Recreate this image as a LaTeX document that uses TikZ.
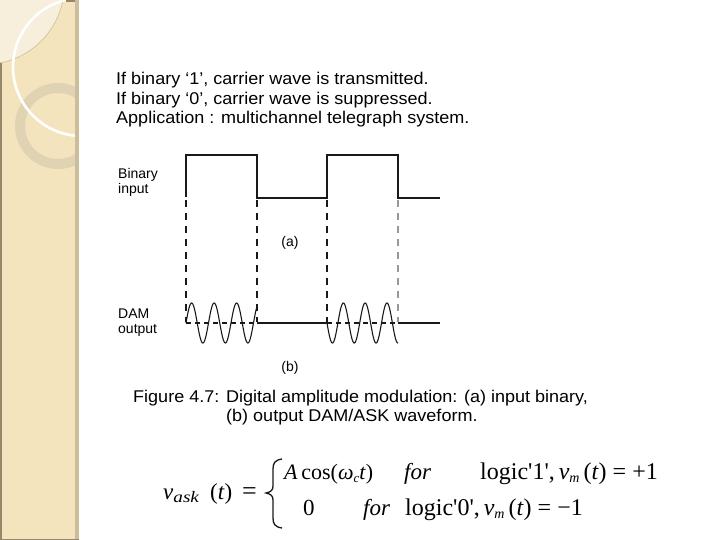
\documentclass[tikz,border=0pt]{standalone}
\usepackage{fontspec}
\setmainfont{Liberation Sans}[FakeStretch=1.06]
\newfontfamily\lfont{Liberation Sans}
\newfontfamily\tfont{Liberation Serif}
\newfontfamily\tsub{Liberation Serif}[FakeStretch=1.2]
\newcommand{\myfs}[1]{\fontsize{#1}{#1}\selectfont}
\definecolor{side}{RGB}{243,228,190}
\definecolor{sidelight}{RGB}{247,239,219}
\definecolor{sideedge}{RGB}{204,190,154}
\definecolor{sidedark}{RGB}{150,135,105}
\definecolor{ringc}{RGB}{224,211,180}
\definecolor{ink}{RGB}{25,25,25}
\begin{document}
\begin{tikzpicture}[x=1pt,y=-1pt,
  sq/.style={ink, line width=1.6pt, line join=miter},
  vdash/.style={ink, line width=1.2pt, dash pattern=on 7pt off 6pt},
  hdash/.style={ink, line width=1.1pt, dash pattern=on 5pt off 4pt},
  wave/.style={ink, line width=1.1pt},
  base/.style={ink, line width=1.4pt},
  lbl/.style={anchor=base west, inner sep=0pt, font=\lfont\myfs{14}},
  txt/.style={anchor=base west, inner sep=0pt, font=\myfs{17}},
  fm/.style={anchor=base west, inner sep=0pt, font=\tfont\myfs{23}}]
\useasboundingbox (0,0) rectangle (720,540);
\fill[white] (0,0) rectangle (720,540);
% sidebar
\begin{scope}
  \clip (0,0) rectangle (78,540);
  \fill[side] (0,0) rectangle (78,540);
  \fill[sidelight] (-15,-15) circle (79.4pt);
  \draw[sideedge, line width=0.6pt] (-15,-15) circle (79.4pt);
  \draw[ringc, line width=10pt] (58,126) circle (38pt);
  \draw[white, line width=2.6pt] (82,67) circle (69pt);
\end{scope}
\fill[sideedge] (75,0) rectangle (79,540);
\fill[sidedark] (66,0) rectangle (75,2);
\draw[sidedark, line width=1.5pt] (0.75,63) -- (0.75,539.25) -- (79,539.25);
% title text
\node[txt] (t1) at (116,85) {If binary ‘1’, carrier wave is transmitted.};
\node[txt] (t2) at (116,104.5) {If binary ‘0’, carrier wave is suppressed.};
\node[txt] (t3) at (116,124) {Application : multichannel telegraph system.};
% labels
\node[lbl] (bi1) at (118,179) {Binary};
\node[lbl] (bi2) at (118,194) {input};
\node[lbl] (da1) at (118,318) {DAM};
\node[lbl] (da2) at (118,333) {output};
\node[font=\lfont\myfs{14}, inner sep=0pt] (la) at (290,243) {(a)};
\node[font=\lfont\myfs{14}, inner sep=0pt] (lb) at (290,368) {(b)};
% binary input square wave
\draw[sq] (186,197) -- (186,155) -- (257,155) -- (257,198) -- (327,198) -- (327,155) -- (398,155) -- (398,198) -- (440,198);
% dashed verticals
\draw[vdash] (186,200) -- (186,322);
\draw[vdash] (257,200) -- (257,322);
\draw[vdash] (327,200) -- (327,322);
\draw[vdash, black!40] (398,200) -- (398,322);
% DAM output
\draw[hdash] (186,323) -- (257,323);
\draw[hdash] (327,323) -- (398,323);
\draw[base] (257,323) -- (327,323);
\draw[base] (398,323) -- (440,323);
\draw[wave] plot[domain=186:257, samples=150] (\x, {323 - 20*sin(16*(\x-186))});
\draw[wave] plot[domain=327:398, samples=150] (\x, {323 + 20*sin(16.514*(\x-327))});
% caption
\node[txt] (c1) at (133,402) {Figure 4.7: Digital amplitude modulation: (a) input binary,};
\node[txt] (c2) at (226,421) {(b) output DAM/ASK waveform.};
% formula
\node[fm] (fv) at (163,499) {\textit{v}\raisebox{-0.35ex}{\tsub\myfs{16}\textit{ask}}};
\node[fm] (ft) at (210,499) {(\textit{t})};
\node[fm, font=\tfont\myfs{26}] (feq) at (242,499) {=};
\draw[ink, line width=1.3pt] (282,459) .. controls (275,460) and (273,463) .. (273,469) -- (273,486) .. controls (273,490) and (271,492) .. (266,493) .. controls (271,494) and (273,496) .. (273,500) -- (273,518) .. controls (273,524) and (275,527) .. (282,528);
\node[fm, font=\tfont\myfs{22}] (fa) at (284,479) {\textit{A}\,cos(\textit{ω}\raisebox{-0.35ex}{\myfs{13}\textit{c}}\textit{t})};
\node[fm] (ff1) at (404,479) {\textit{for}};
\node[fm, font=\tfont\myfs{24}] (fl1) at (480,479) {logic\char"27 1\char"27 ,\,\textit{v}\raisebox{-0.35ex}{\myfs{14}\textit{m}}\,(\textit{t}) = +1};
\node[fm] (f0) at (303,515) {0};
\node[fm] (ff2) at (363,515) {\textit{for}};
\node[fm, font=\tfont\myfs{24}] (fl2) at (405,515) {logic\char"27 0\char"27 ,\,\textit{v}\raisebox{-0.35ex}{\myfs{14}\textit{m}}\,(\textit{t}) = −1};
\end{tikzpicture}
\end{document}
